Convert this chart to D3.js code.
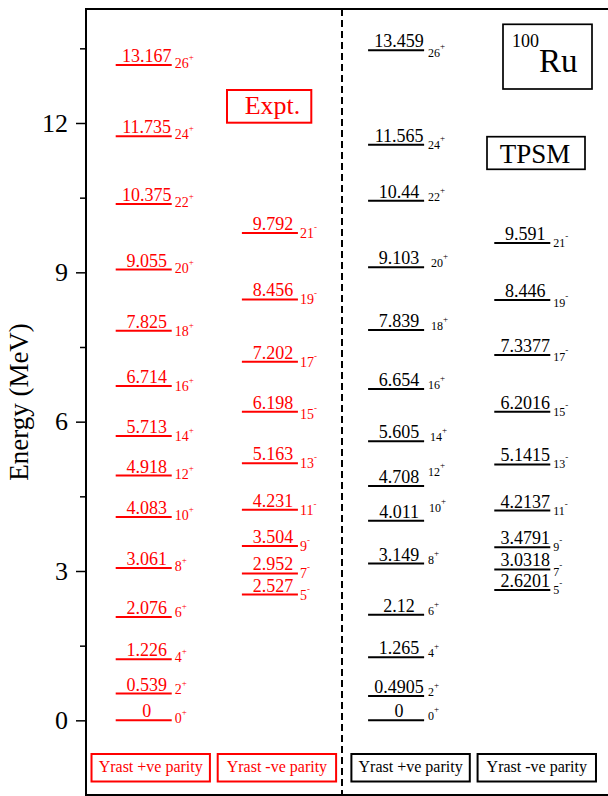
<!doctype html>
<html>

<head>
    <meta charset="utf-8">
    <title>100Ru yrast levels</title>
    <style>
        body { margin: 0; background: #fff; }
        text { font-family: "Liberation Serif", "Times New Roman", serif; }
    </style>
</head>

<body>
    <svg width="608" height="796"></svg>
    <script src="https://d3js.org/d3.v7.min.js"></script>
    <script>
    // Level energies (MeV) and spins
    var exptPosSpin = [0, 2, 4, 6, 8, 10, 12, 14, 16, 18, 20, 22, 24, 26];
    var exptPosEnergy = [0, 0.539, 1.226, 2.076, 3.061, 4.083, 4.918, 5.713, 6.714, 7.825, 9.055, 10.375, 11.735, 13.167];
    var exptNegSpin = [5, 7, 9, 11, 13, 15, 17, 19, 21];
    var exptNegEnergy = [2.527, 2.952, 3.504, 4.231, 5.163, 6.198, 7.202, 8.456, 9.792];
    var tpsmPosSpin = [0, 2, 4, 6, 8, 10, 12, 14, 16, 18, 20, 22, 24, 26];
    var tpsmPosEnergy = [0, 0.4905, 1.265, 2.12, 3.149, 4.011, 4.708, 5.605, 6.654, 7.839, 9.103, 10.44, 11.565, 13.459];
    var tpsmNegSpin = [5, 7, 9, 11, 13, 15, 17, 19, 21];
    var tpsmNegEnergy = [2.6201, 3.0318, 3.4791, 4.2137, 5.1415, 6.2016, 7.3377, 8.446, 9.591];

    var columns = ["exptPos", "exptNeg", "tpsmPos", "tpsmNeg"];
    var legendLabels = ["Yrast +ve parity", "Yrast -ve parity", "Yrast +ve parity", "Yrast -ve parity"];
    var majorTicks = [0, 3, 6, 9, 12];
    var minorTicks = [1.5, 4.5, 7.5, 10.5, 13.5];

    var svg = d3.select("svg");
    var frame = { left: 86, top: 9, right: 620, bottom: 795 };
    var red = "#ff0000";

    var y = d3.scaleLinear()
        .domain([-1.5, 14.29])
        .range([frame.bottom, frame.top]);

    var x = d3.scaleBand()
        .domain(columns)
        .range([115.7, 550.3])
        .paddingInner(0.556)
        .paddingOuter(0);
    var bw = x.bandwidth();

    // per column drawing settings
    var bands = [
        { key: "exptPos", spins: exptPosSpin, energies: exptPosEnergy, sign: "+", color: red, spinSize: 14, dx: 3, dy: 3, legendShift: 7 },
        { key: "exptNeg", spins: exptNegSpin, energies: exptNegEnergy, sign: "-", color: red, spinSize: 14, dx: 2, dy: 5, legendShift: 7 },
        { key: "tpsmPos", spins: tpsmPosSpin, energies: tpsmPosEnergy, sign: "+", color: "#000", spinSize: 12, dx: 4, dy: 0, legendShift: 14.5 },
        { key: "tpsmNeg", spins: tpsmNegSpin, energies: tpsmNegEnergy, sign: "-", color: "#000", spinSize: 12, dx: 3, dy: 4, legendShift: 14.5 }
    ];

    // hand nudges for spin labels that sit off the usual spot
    var spinNudge = {
        "tpsmPos-26": [0, 7], "tpsmPos-24": [0, 4], "tpsmPos-20": [3, 0], "tpsmPos-18": [3, 0],
        "tpsmPos-14": [2, 0], "tpsmPos-12": [0, -10], "tpsmPos-10": [1, -9],
        "tpsmNeg-19": [0, 3], "tpsmNeg-17": [0, 2], "tpsmNeg-7": [0, 3],
        "exptPos-18": [0, 2], "exptPos-16": [0, 2], "exptPos-14": [0, 2], "exptPos-2": [0, -3], "exptPos-6": [0, -3],
        "exptNeg-15": [0, 2]
    };

    // frame
    svg.append("rect")
        .attr("x", frame.left)
        .attr("y", frame.top)
        .attr("width", frame.right - frame.left)
        .attr("height", frame.bottom - frame.top)
        .attr("fill", "none")
        .attr("stroke", "#000")
        .attr("stroke-width", 2);

    // y axis, major and minor ticks outside the frame
    var yAxis = svg.append("g")
        .attr("transform", "translate(" + frame.left + ",0)")
        .call(d3.axisLeft(y).tickValues(majorTicks).tickSize(10).tickPadding(8).tickFormat(d3.format("d")));
    yAxis.select(".domain").remove();
    yAxis.selectAll("line").attr("stroke-width", 1.5);
    yAxis.selectAll("text")
        .style("font-family", "'Liberation Serif', 'Times New Roman', serif")
        .style("font-size", "26px")
        .attr("fill", "#000");

    var yMinor = svg.append("g")
        .attr("transform", "translate(" + frame.left + ",0)")
        .call(d3.axisLeft(y).tickValues(minorTicks).tickSize(6).tickFormat(""));
    yMinor.select(".domain").remove();
    yMinor.selectAll("line").attr("stroke-width", 1.5);

    svg.append("text")
        .attr("transform", "translate(28,402) rotate(-90)")
        .attr("text-anchor", "middle")
        .style("font-size", "27px")
        .text("Energy (MeV)");

    // dashed divider between experiment and theory
    svg.append("line")
        .attr("x1", 342).attr("x2", 342)
        .attr("y1", frame.top).attr("y2", frame.bottom)
        .attr("stroke", "#000")
        .attr("stroke-width", 2)
        .attr("stroke-dasharray", "7,4");

    bands.forEach(function(b) {
        var levels = b.energies.map(function(e, i) {
            return { e: e, j: b.spins[i] };
        });
        var g = svg.append("g").attr("class", b.key);
        var x0 = x(b.key);

        g.selectAll("line.level")
            .data(levels)
            .enter().append("line")
            .attr("class", "level")
            .attr("x1", x0)
            .attr("x2", x0 + bw)
            .attr("y1", function(d) { return y(d.e); })
            .attr("y2", function(d) { return y(d.e); })
            .attr("stroke", b.color)
            .attr("stroke-width", 2);

        g.selectAll("text.energy")
            .data(levels)
            .enter().append("text")
            .attr("class", "energy")
            .attr("x", x0 + bw / 2 + 3)
            .attr("y", function(d) { return y(d.e) - 3; })
            .attr("text-anchor", "middle")
            .attr("fill", b.color)
            .style("font-size", "18px")
            .text(function(d) { return String(d.e); });

        var spin = g.selectAll("text.spin")
            .data(levels)
            .enter().append("text")
            .attr("class", "spin")
            .attr("x", function(d) {
                var n = spinNudge[b.key + "-" + d.j] || [0, 0];
                return x0 + bw + b.dx + n[0];
            })
            .attr("y", function(d) {
                var n = spinNudge[b.key + "-" + d.j] || [0, 0];
                return y(d.e) + b.dy + n[1];
            })
            .attr("fill", b.color)
            .style("font-size", b.spinSize + "px");
        spin.append("tspan").text(function(d) { return d.j; });
        spin.append("tspan")
            .attr("dy", -8)
            .style("font-size", "9px")
            .text(b.sign);

        // legend box under each column
        var cx = x0 + bw / 2 + b.legendShift;
        svg.append("rect")
            .attr("x", cx - 59.2)
            .attr("y", 754)
            .attr("width", 118.4)
            .attr("height", 27.5)
            .attr("fill", "none")
            .attr("stroke", b.color)
            .attr("stroke-width", 2);
        svg.append("text")
            .attr("x", cx)
            .attr("y", 772)
            .attr("text-anchor", "middle")
            .attr("fill", b.color)
            .style("font-size", "16px")
            .text(legendLabels[columns.indexOf(b.key)]);
    });

    // annotation boxes
    svg.append("rect")
        .attr("x", 227).attr("y", 90)
        .attr("width", 84.3).attr("height", 32.7)
        .attr("fill", "none").attr("stroke", red).attr("stroke-width", 2);
    svg.append("text")
        .attr("x", 272.5).attr("y", 114)
        .attr("text-anchor", "middle")
        .attr("fill", red)
        .style("font-size", "26px")
        .text("Expt.");

    svg.append("rect")
        .attr("x", 503).attr("y", 24.3)
        .attr("width", 89).attr("height", 64.7)
        .attr("fill", "none").attr("stroke", "#000").attr("stroke-width", 1.7);
    var ru = svg.append("text")
        .attr("x", 512).attr("y", 72);
    ru.append("tspan").attr("dy", -25).style("font-size", "18px").text("100");
    ru.append("tspan").attr("dy", 25).style("font-size", "33px").text("Ru");

    svg.append("rect")
        .attr("x", 487).attr("y", 136.7)
        .attr("width", 98).attr("height", 32.6)
        .attr("fill", "none").attr("stroke", "#000").attr("stroke-width", 1.7);
    svg.append("text")
        .attr("x", 535).attr("y", 163.3)
        .attr("text-anchor", "middle")
        .style("font-size", "27px")
        .text("TPSM");
    </script>
</body>

</html>
